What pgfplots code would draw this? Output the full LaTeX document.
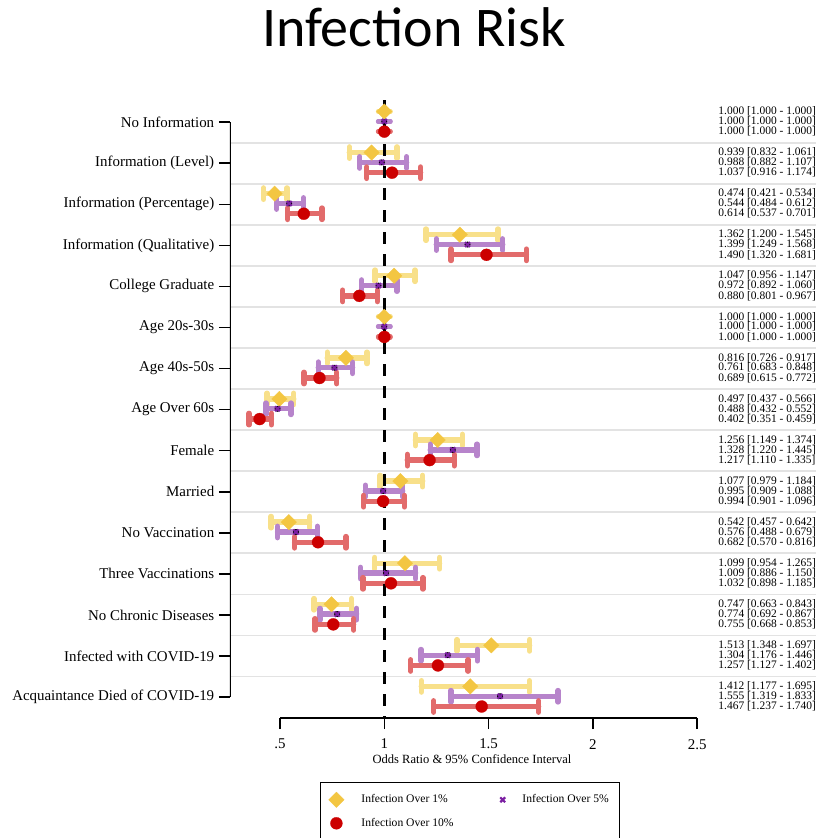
\documentclass[border=0pt]{standalone}
\usepackage{fontspec}
\setmainfont{Liberation Serif}
\newfontfamily\titlefont{Carlito}
\usepackage{pgfplots}
\usepackage{pgfplotstable}
\pgfplotsset{compat=1.18}

\definecolor{ybar}{HTML}{F8E08A}
\definecolor{ymark}{HTML}{F3C642}
\definecolor{pbar}{HTML}{B784CB}
\definecolor{pmark}{HTML}{7B1FA2}
\definecolor{rbar}{HTML}{E26B6B}
\definecolor{rmark}{HTML}{CC0000}
\definecolor{sepline}{HTML}{E3E3E3}

% odds ratios with 95% confidence intervals, one table per threshold
\pgfplotstableread{
cat or lo hi
1 1.000 1.000 1.000
2 0.939 0.832 1.061
3 0.474 0.421 0.534
4 1.362 1.200 1.545
5 1.047 0.956 1.147
6 1.000 1.000 1.000
7 0.816 0.726 0.917
8 0.497 0.437 0.566
9 1.256 1.149 1.374
10 1.077 0.979 1.184
11 0.542 0.457 0.642
12 1.099 0.954 1.265
13 0.747 0.663 0.843
14 1.513 1.348 1.697
15 1.412 1.177 1.695
}\tabA
\pgfplotstableread{
cat or lo hi
1 1.000 1.000 1.000
2 0.988 0.882 1.107
3 0.544 0.484 0.612
4 1.399 1.249 1.568
5 0.972 0.892 1.060
6 1.000 1.000 1.000
7 0.761 0.683 0.848
8 0.488 0.432 0.552
9 1.328 1.220 1.445
10 0.995 0.909 1.088
11 0.576 0.488 0.679
12 1.009 0.886 1.150
13 0.774 0.692 0.867
14 1.304 1.176 1.446
15 1.555 1.319 1.833
}\tabB
\pgfplotstableread{
cat or lo hi
1 1.000 1.000 1.000
2 1.037 0.916 1.174
3 0.614 0.537 0.701
4 1.490 1.320 1.681
5 0.880 0.801 0.967
6 1.000 1.000 1.000
7 0.689 0.615 0.772
8 0.402 0.351 0.459
9 1.217 1.110 1.335
10 0.994 0.901 1.096
11 0.682 0.570 0.816
12 1.032 0.898 1.185
13 0.755 0.668 0.853
14 1.257 1.127 1.402
15 1.467 1.237 1.740
}\tabC

\pgfplotsset{
  ci bars/.style={forget plot, only marks, mark=none,
    error bars/.cd, x dir=both, x explicit, error mark=|,
    error bar style={draw=#1, line width=4pt, line cap=round},
    error mark options={draw=#1, line width=4pt, line cap=round, mark size=4.3pt}},
  ci text/.style={forget plot, only marks, mark=none,
    visualization depends on={\thisrow{or} \as \vOR},
    visualization depends on={\thisrow{lo} \as \vLO},
    visualization depends on={\thisrow{hi} \as \vHI},
    nodes near coords={\pgfmathprintnumber{\vOR} [\pgfmathprintnumber{\vLO} - \pgfmathprintnumber{\vHI}]},
    nodes near coords style={anchor=west, inner sep=0pt, font=\fontsize{8.6}{8.6}\selectfont}},
}

\begin{document}
\begin{tikzpicture}
\begin{axis}[
  name=ax,
  scale only axis,
  width=439.5pt, height=463.5pt,
  xmin=0.26, xmax=3.07,
  ymin=0.46, ymax=15.51,
  y dir=reverse,
  axis line style={draw=none},
  /pgf/number format/assume math mode=true,
  /pgf/number format/.cd, fixed, fixed zerofill, precision=3, /pgfplots/.cd,
  xtick={0.5,1,1.5,2,2.5},
  xticklabels={.5,1,1.5,2,2.5},
  xtick pos=bottom,
  ytick={1,...,15},
  yticklabels={No Information, Information (Level), Information (Percentage),
    Information (Qualitative), College Graduate, Age 20s-30s, Age 40s-50s,
    Age Over 60s, Female, Married, No Vaccination, Three Vaccinations,
    No Chronic Diseases, Infected with COVID-19, Acquaintance Died of COVID-19},
  ytick pos=left,
  tick align=outside,
  major tick length=8.3pt,
  tick style={black, line width=1.2pt},
  minor ytick={1.5,2.5,...,14.5},
  yminorgrids=true,
  minor tick length=0pt,
  minor grid style={sepline, line width=1.3pt},
  ticklabel style={font=\fontsize{11.2}{13}\selectfont},
  xticklabel style={yshift=-4pt},
  xlabel={Odds Ratio \& 95\% Confidence Interval},
  xlabel style={at={(axis description cs:0.413,0)}, anchor=center, yshift=-30.75pt,
    font=\fontsize{9.4}{11}\selectfont},
  legend columns=2,
  legend cell align=left,
  legend style={at={(axis description cs:0.1536,-0.1036)}, anchor=north west,
    draw=black, line width=1pt, font=\fontsize{8.7}{10}\selectfont,
    /tikz/every odd column/.append style={column sep=11pt},
    /tikz/every even column/.append style={column sep=33pt},
    row sep=6pt, inner xsep=6pt, inner ysep=7pt},
]
% confidence intervals
\addplot[ci bars=ybar] table[x=or, y expr=\thisrow{cat}-0.26,
  x error plus expr=\thisrow{hi}-\thisrow{or}, x error minus expr=\thisrow{or}-\thisrow{lo}] {\tabA};
\addplot[ci bars=pbar] table[x=or, y expr=\thisrow{cat}-0.02,
  x error plus expr=\thisrow{hi}-\thisrow{or}, x error minus expr=\thisrow{or}-\thisrow{lo}] {\tabB};
\addplot[ci bars=rbar] table[x=or, y expr=\thisrow{cat}+0.23,
  x error plus expr=\thisrow{hi}-\thisrow{or}, x error minus expr=\thisrow{or}-\thisrow{lo}] {\tabC};
% reference line at an odds ratio of 1
\addplot[forget plot, black, line width=2pt, dash pattern=on 9pt off 7.5pt] coordinates {(1,0.46) (1,15.51)};
% point estimates
\addplot[only marks, mark=square*, mark size=4.1pt,
  mark options={rotate=45, fill=ymark, draw=ymark, line width=0.2pt}]
  table[x=or, y expr=\thisrow{cat}-0.26] {\tabA};
\addlegendentry{Infection Over 1\%}
\addplot[only marks, mark=x, mark size=2.6pt,
  mark options={draw=pmark, line width=1.6pt}]
  table[x=or, y expr=\thisrow{cat}-0.02] {\tabB};
\addlegendentry{Infection Over 5\%\hspace{10pt}}
\addplot[only marks, mark=*, mark size=4.5pt,
  mark options={fill=rmark, draw=rmark, line width=0.2pt}]
  table[x=or, y expr=\thisrow{cat}+0.23] {\tabC};
\addlegendentry{Infection Over 10\%}
% printed estimates on the right
\addplot[ci text] table[x expr=2.601, y expr=\thisrow{cat}-0.26] {\tabA};
\addplot[ci text] table[x expr=2.601, y expr=\thisrow{cat}-0.02] {\tabB};
\addplot[ci text] table[x expr=2.601, y expr=\thisrow{cat}+0.23] {\tabC};
% axis lines
\draw[line width=1.2pt] (axis cs:0.5,15.51) -- (axis cs:2.5,15.51);
\draw[line width=1.5pt] (axis cs:0.26,1) -- (axis cs:0.26,15);
\end{axis}
\node[font=\titlefont\fontsize{42}{46}\selectfont, anchor=base]
  at ([xshift=138pt, yshift=39.75pt]ax.north west) {Infection Risk};
\pgfresetboundingbox
\path[use as bounding box] ([shift={(-172.5pt,-90pt)}]ax.south west)
  rectangle ([shift={(0pt,75pt)}]ax.north east);
\end{tikzpicture}
\end{document}
